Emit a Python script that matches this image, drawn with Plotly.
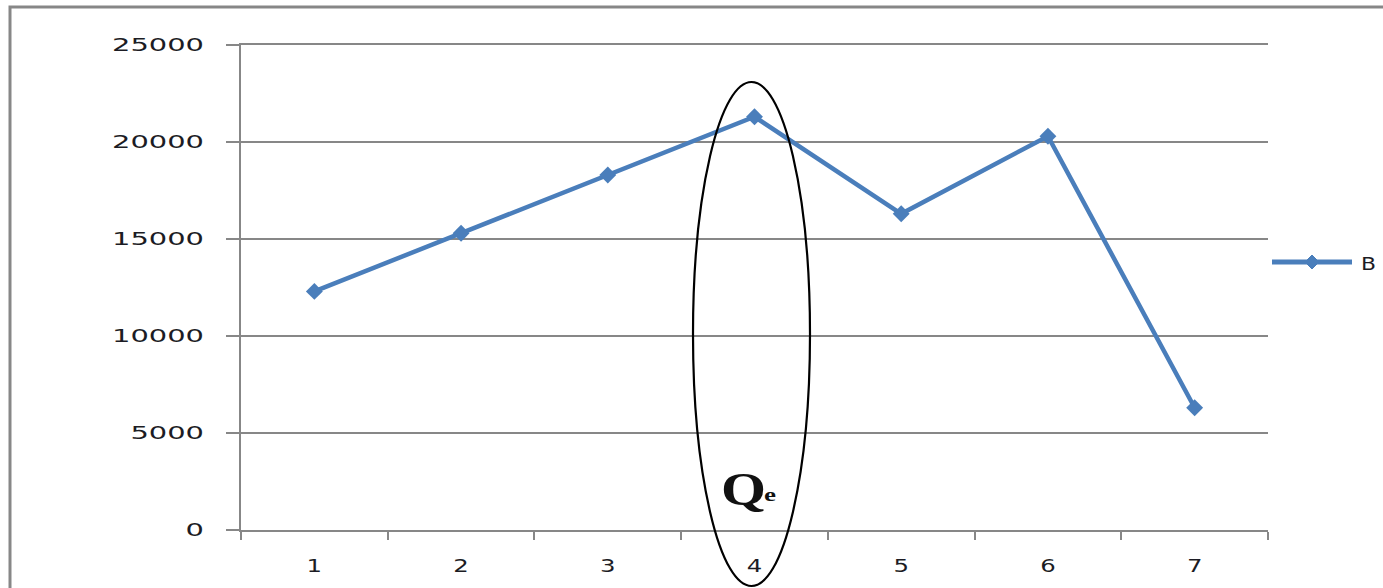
import plotly.graph_objects as go

# Series B, one value per period
categories = ["1", "2", "3", "4", "5", "6", "7"]
values_b = [12300, 15300, 18300, 21300, 16300, 20300, 6300]
y_ticks = [0, 5000, 10000, 15000, 20000, 25000]

W, H = 1383, 588
L, R, T, B = 241, 115, 45, 58
pw, ph = W - L - R, H - T - B

def px_x(p):
    return (p - L) / pw

def px_y(p):
    return (H - B - p) / ph

blue = "#4A7EBB"
grey = "#878787"
ink = "#1c1c24"

fig = go.Figure()
fig.add_trace(go.Scatter(
    x=categories, y=values_b, mode="lines+markers", name="B",
    line=dict(color=blue, width=4.5),
    marker=dict(symbol="diamond", size=13, color=blue),
    showlegend=False, cliponaxis=False,
))

shapes = [
    # outer chart frame
    dict(type="rect", xref="paper", yref="paper",
         x0=px_x(10), x1=px_x(1400), y0=px_y(600), y1=px_y(7),
         line=dict(color=grey, width=3), layer="below"),
    # ellipse around period 4
    dict(type="circle", xref="paper", yref="paper",
         x0=px_x(693), x1=px_x(810), y0=px_y(586), y1=px_y(82),
         line=dict(color="black", width=2.2)),
    # legend line
    dict(type="line", xref="paper", yref="paper",
         x0=px_x(1272), x1=px_x(1352), y0=px_y(262), y1=px_y(262),
         line=dict(color=blue, width=5)),
    # legend diamond
    dict(type="path", xref="paper", yref="paper",
         path=(f"M {px_x(1305)} {px_y(262)} L {px_x(1312)} {px_y(255)} "
               f"L {px_x(1319)} {px_y(262)} L {px_x(1312)} {px_y(269)} Z"),
         fillcolor=blue, line=dict(color=blue, width=1)),
]

annotations = [
    dict(xref="paper", yref="paper", x=px_x(1359), y=px_y(263),
         text="B", showarrow=False, xanchor="left", yanchor="middle",
         font=dict(family="DejaVu Sans", size=18, color=ink)),
    dict(xref="paper", yref="paper", x=px_x(719), y=px_y(489),
         text="<b>Q</b>", showarrow=False, xanchor="left", yanchor="middle",
         font=dict(family="Liberation Serif", size=46, color="#111")),
    dict(xref="paper", yref="paper", x=px_x(762), y=px_y(494),
         text="<b>e</b>", showarrow=False, xanchor="left", yanchor="middle",
         font=dict(family="Liberation Serif", size=19, color="#111")),
]

fig.update_layout(
    width=W, height=H,
    margin=dict(l=L, r=R, t=T, b=B),
    paper_bgcolor="white", plot_bgcolor="white",
    shapes=shapes, annotations=annotations,
    showlegend=False,
    xaxis=dict(
        type="category", tickson="boundaries", ticks="outside",
        ticklen=8, tickwidth=2, tickcolor=grey,
        showline=True, linecolor=grey, linewidth=2, mirror=True,
        showgrid=False, ticklabelstandoff=18,
        tickfont=dict(family="DejaVu Sans", size=18, color=ink),
        range=[-0.5, 6.5],
    ),
    yaxis=dict(
        range=[0, 25000], tickvals=y_ticks,
        ticktext=[str(v) for v in y_ticks],
        ticks="outside", ticklen=13, tickwidth=2, tickcolor=grey,
        showgrid=True, gridcolor=grey, gridwidth=2,
        showline=True, linecolor=grey, linewidth=2,
        zeroline=False, ticklabelstandoff=25,
        tickfont=dict(family="DejaVu Sans", size=18, color=ink),
    ),
)

# The chart's lettering is set wide: stretch each text run to its width,
# keeping y labels right-aligned near the axis and other labels centred.
post = """
var gd = document.getElementById('{plot_id}');
var svg = gd.querySelector('svg');
function widen(t, w, mode, rightEdge) {
  var b0 = t.getBBox();
  var cx = b0.x + b0.width / 2;
  t.setAttribute('textLength', w.toFixed(1));
  t.setAttribute('lengthAdjust', 'spacingAndGlyphs');
  var b1 = t.getBBox();
  var dx = (mode === 'right') ? (rightEdge - (b1.x + b1.width))
                              : (cx - (b1.x + b1.width / 2));
  t.setAttribute('x', (parseFloat(t.getAttribute('x') || 0) + dx).toFixed(1));
}
gd.querySelectorAll('.ytick text').forEach(function (t) {
  var p = svg.createSVGPoint();
  p.x = 212; p.y = 0;
  var local = p.matrixTransform(t.getScreenCTM().inverse());
  widen(t, t.textContent.length * 18.4, 'right', local.x);
});
gd.querySelectorAll('.xtick text').forEach(function (t) {
  widen(t, t.textContent.length * 15.5, 'centre');
});
gd.querySelectorAll('.annotation-text').forEach(function (t) {
  var w = {'B': 15, 'Q': 45, 'e': 12}[t.textContent];
  if (w) {
    var left = t.getBBox().x;
    t.setAttribute('textLength', w);
    t.setAttribute('lengthAdjust', 'spacingAndGlyphs');
    var b1 = t.getBBox();
    t.setAttribute('x', (parseFloat(t.getAttribute('x') || 0) + left - b1.x).toFixed(1));
  }
});
"""

fig.write_html("out.html", post_script=post)
